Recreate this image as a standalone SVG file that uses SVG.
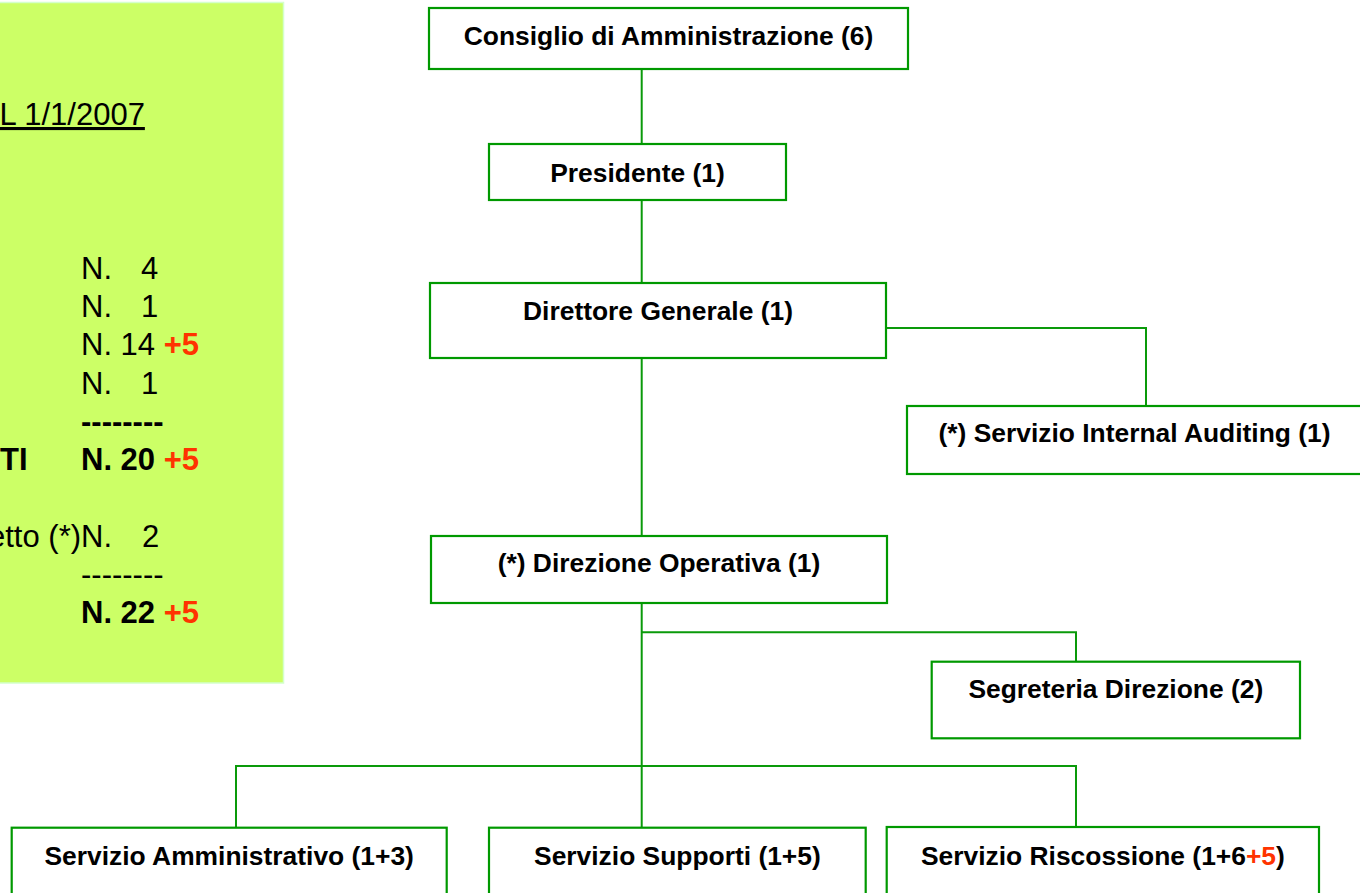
<svg xmlns="http://www.w3.org/2000/svg" width="1360" height="893" viewBox="0 0 1360 893">
<style>
.box{fill:#ffffff;stroke:#009900;stroke-width:2.2}
.lbl{font-family:"Liberation Sans",Arial,sans-serif;font-weight:bold;font-size:26.4px;fill:#000;text-anchor:middle}
.red{fill:#FF3300}
.conn{fill:none;stroke:#0A9A0A;stroke-width:2}
.pt{font-family:"Liberation Sans",Arial,sans-serif;font-size:31px;fill:#000}
.b{font-weight:bold}
</style>
<rect x="0" y="0" width="1360" height="893" fill="#ffffff"/>
<g id="panel">
<rect x="-10" y="2.5" width="293.5" height="680.5" fill="#CCFF66" stroke="#D4FFCC" stroke-width="1.5"/>
<text class="pt" x="-0.5" y="125" text-decoration="underline">L 1/1/2007</text>
<text class="pt" x="81" y="278.5">N.<tspan x="141">4</tspan></text>
<text class="pt" x="81" y="317">N.<tspan x="141">1</tspan></text>
<text class="pt" x="81" y="355" xml:space="preserve">N. 14 <tspan class="b red">+5</tspan></text>
<text class="pt" x="81" y="393.5">N.<tspan x="141">1</tspan></text>
<text class="pt b" x="81" y="431.5">--------</text>
<text class="pt b" x="0" y="470">TI</text>
<text class="pt b" x="81" y="470" xml:space="preserve">N. 20 <tspan class="red">+5</tspan></text>
<text class="pt" x="-12" y="547">etto (*)N.<tspan x="142">2</tspan></text>
<text class="pt" x="81" y="585">--------</text>
<text class="pt b" x="81" y="623" xml:space="preserve">N. 22 <tspan class="red">+5</tspan></text>
</g>
<g id="connectors">
<path class="conn" d="M641.7 69 V144"/>
<path class="conn" d="M641.7 200 V283"/>
<path class="conn" d="M886 328 H1146 V406"/>
<path class="conn" d="M641.7 358 V536"/>
<path class="conn" d="M641.7 603 V828"/>
<path class="conn" d="M641.7 632.3 H1076 V661.7"/>
<path class="conn" d="M236 828 V766 H1076 V827"/>
</g>
<g id="consiglio">
<rect class="box" x="429" y="8" width="479" height="61"/>
<text class="lbl" x="668.5" y="45">Consiglio di Amministrazione (6)</text>
</g>
<g id="presidente">
<rect class="box" x="489" y="144" width="297" height="56"/>
<text class="lbl" x="637.5" y="182">Presidente (1)</text>
</g>
<g id="direttore">
<rect class="box" x="430" y="283" width="456" height="75"/>
<text class="lbl" x="658" y="320">Direttore Generale (1)</text>
</g>
<g id="auditing">
<rect class="box" x="907" y="406" width="460" height="68"/>
<text class="lbl" x="1134.5" y="442">(*) Servizio Internal Auditing (1)</text>
</g>
<g id="direzione">
<rect class="box" x="431" y="536" width="456" height="67"/>
<text class="lbl" x="659" y="572">(*) Direzione Operativa (1)</text>
</g>
<g id="segreteria">
<rect class="box" x="931.7" y="661.7" width="368.3" height="76.6"/>
<text class="lbl" x="1115.8" y="697.7">Segreteria Direzione (2)</text>
</g>
<g id="amministrativo">
<rect class="box" x="11.7" y="827.7" width="435" height="90"/>
<text class="lbl" x="229.2" y="865">Servizio Amministrativo (1+3)</text>
</g>
<g id="supporti">
<rect class="box" x="489" y="827.7" width="376.7" height="90"/>
<text class="lbl" x="677.4" y="865">Servizio Supporti (1+5)</text>
</g>
<g id="riscossione">
<rect class="box" x="886.7" y="827" width="432.3" height="90"/>
<text class="lbl" x="1102.9" y="865">Servizio Riscossione (1+6<tspan class="red">+5</tspan>)</text>
</g>
</svg>
